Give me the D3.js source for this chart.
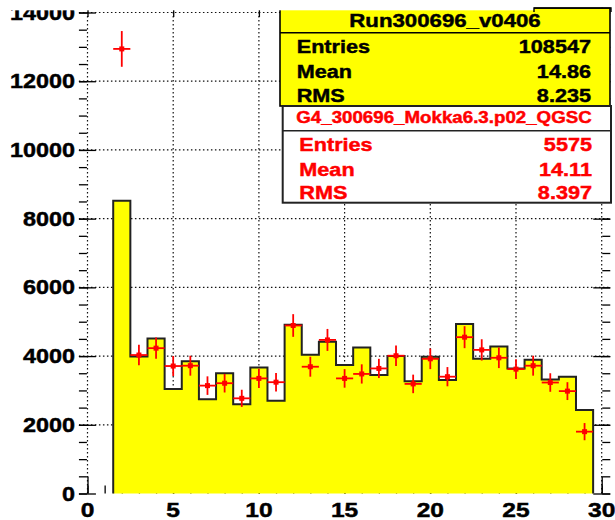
<!DOCTYPE html>
<html>
<head>
<meta charset="utf-8">
<script src="https://cdn.jsdelivr.net/npm/d3@7"></script>
<style>
  body { margin: 0; background: #fff; }
  svg { display: block; font-family: 'Liberation Sans', Arial, sans-serif; font-weight: bold; }
</style>
</head>
<body>
<svg id="chart" width="615" height="520"></svg>
<script>
// bin centres (bins are 1 wide, centred on integers)
const binCenters = [2, 3, 4, 5, 6, 7, 8, 9, 10, 11, 12, 13, 14, 15, 16, 17, 18, 19, 20, 21, 22, 23, 24, 25, 26, 27, 28, 29];
// data histogram (yellow)
const dataCounts = [8520, 3990, 4510, 3040, 3850, 2740, 3500, 2600, 3670, 2700, 4910, 4040, 4420, 3740, 4250, 3450, 4000, 3270, 3980, 3300, 4930, 3920, 4280, 3640, 3890, 3320, 3400, 2430];
// simulation points (red) and their errors
const mcCounts = [12940, 4030, 4230, 3710, 3720, 3140, 3210, 2770, 3350, 3240, 4890, 3690, 4470, 3350, 3480, 3640, 4010, 3190, 3920, 3400, 4550, 4180, 3950, 3620, 3720, 3230, 2980, 1800];
const mcErrors = [520, 300, 310, 290, 290, 270, 270, 250, 280, 270, 330, 290, 320, 270, 280, 280, 300, 270, 300, 280, 320, 310, 300, 290, 290, 270, 260, 250];

const xTickLabels = [0, 5, 10, 15, 20, 25, 30];
const yTickLabels = [0, 2000, 4000, 6000, 8000, 10000, 12000, 14000];

const dataTitle = 'Run300696_v0406';
const statNames = ['Entries', 'Mean', 'RMS'];
const dataStatValues = ['108547', '14.86', '8.235'];
const mcTitle = 'G4_300696_Mokka6.3.p02_QGSC';
const mcStatValues = ['5575', '14.11', '8.397'];

var svg = d3.select('#chart');
var stretch = 1.17;
var x = d3.scaleLinear().domain([-0.5, 30.5]).range([78.93, 610.27]);
var y = d3.scaleLinear().domain([0, 14000]).range([493.5, 12.5]);
var left = x(-0.5), right = x(30.5), top = y(14000), bottom = y(0);

function stretchedText(g, tx, ty, str, size, anchor, color) {
  return g.append('text')
          .attr('transform', `translate(${tx},${ty}) scale(${stretch},1)`)
          .attr('font-size', size)
          .attr('text-anchor', anchor)
          .attr('fill', color || '#000')
          .attr('stroke', color || '#000')
          .attr('stroke-width', 0.45)
          .text(str);
}

function drawTicks(axisFn, pos, values, size) {
  svg.append('g')
     .attr('transform', pos)
     .call(axisFn.tickValues(values).tickSize(size).tickSizeOuter(0).tickFormat(''))
     .call(g => g.select('.domain').remove())
     .selectAll('line').attr('stroke', '#000').attr('stroke-width', 1.3);
}

// grid
svg.append('g').selectAll('line').data(xTickLabels).enter().append('line')
   .attr('x1', d => x(d)).attr('x2', d => x(d))
   .attr('y1', top).attr('y2', bottom)
   .attr('stroke', '#111').attr('stroke-width', 1.2).attr('stroke-dasharray', '1.5,2.5');
svg.append('g').selectAll('line').data(yTickLabels.slice(1)).enter().append('line')
   .attr('x1', left).attr('x2', right)
   .attr('y1', d => y(d)).attr('y2', d => y(d))
   .attr('stroke', '#111').attr('stroke-width', 1.2).attr('stroke-dasharray', '1.5,2.5');

// ticks on all four sides
var xMinor = d3.range(0, 31, 1), yMinor = d3.range(0, 14001, 500);
drawTicks(d3.axisBottom(x), `translate(0,${bottom})`, xMinor, -8);
drawTicks(d3.axisBottom(x), `translate(0,${bottom})`, xTickLabels, -17);
drawTicks(d3.axisTop(x), `translate(0,${top})`, xMinor, -5);
drawTicks(d3.axisTop(x), `translate(0,${top})`, xTickLabels, -17);
drawTicks(d3.axisLeft(y), `translate(${left},0)`, yMinor, -8);
drawTicks(d3.axisLeft(y), `translate(${left},0)`, yTickLabels, -17);
drawTicks(d3.axisRight(y), `translate(${right},0)`, yMinor, -8);
drawTicks(d3.axisRight(y), `translate(${right},0)`, yTickLabels, -17);

// histogram
var steps = [[binCenters[0] - 0.5, 0]];
binCenters.forEach(function(c, i) {
  steps.push([c - 0.5, dataCounts[i]]);
  steps.push([c + 0.5, dataCounts[i]]);
});
steps.push([binCenters[binCenters.length - 1] + 0.5, 0]);
svg.append('path')
   .attr('d', d3.line().x(d => x(d[0])).y(d => y(d[1]))(steps))
   .attr('fill', '#ffff00')
   .attr('stroke', '#222')
   .attr('stroke-width', 2);

// red points with errors
var pts = svg.append('g').selectAll('g').data(binCenters).enter().append('g');
pts.append('line')
   .attr('x1', d => x(d)).attr('x2', d => x(d))
   .attr('y1', (d, i) => y(mcCounts[i] - mcErrors[i]))
   .attr('y2', (d, i) => y(mcCounts[i] + mcErrors[i]))
   .attr('stroke', '#ff0000').attr('stroke-width', 1.8);
pts.append('line')
   .attr('x1', d => x(d - 0.5)).attr('x2', d => x(d + 0.5))
   .attr('y1', (d, i) => y(mcCounts[i])).attr('y2', (d, i) => y(mcCounts[i]))
   .attr('stroke', '#ff0000').attr('stroke-width', 1.8);
pts.append('rect')
   .attr('x', d => x(d) - 2.5).attr('y', (d, i) => y(mcCounts[i]) - 2.5)
   .attr('width', 5).attr('height', 5)
   .attr('fill', '#ff0000');

// frame (left, bottom, right)
svg.append('path')
   .attr('d', `M${left},${top}V${bottom}H${right}V${top}`)
   .attr('fill', 'none').attr('stroke', '#000').attr('stroke-width', 1.6);

// tick labels
var labels = svg.append('g');
yTickLabels.forEach(function(v) {
  stretchedText(labels, 75, y(v) + 7, v, 20, 'end');
});
xTickLabels.forEach(function(v) {
  stretchedText(labels, x(v), 516.5, v, 21, 'middle');
});

// stats box for data
var box1 = svg.append('g');
box1.append('rect').attr('x', 280).attr('y', 8).attr('width', 330).attr('height', 98)
    .attr('fill', '#ffff00').attr('stroke', '#000').attr('stroke-width', 1.6);
box1.append('line').attr('x1', 280).attr('x2', 610).attr('y1', 32.7).attr('y2', 32.7)
    .attr('stroke', '#000').attr('stroke-width', 1.4);
stretchedText(box1, 445, 26.7, dataTitle, 19, 'middle');
[53.3, 78.3, 101.7].forEach(function(by, i) {
  stretchedText(box1, 296.7, by, statNames[i], 18.5, 'start');
  stretchedText(box1, 591, by, dataStatValues[i], 18.5, 'end');
});

// stats box for simulation
var box2 = svg.append('g');
box2.append('rect').attr('x', 282.7).attr('y', 106).attr('width', 328.3).attr('height', 96.7)
    .attr('fill', '#fff').attr('stroke', '#222').attr('stroke-width', 2);
box2.append('line').attr('x1', 282.7).attr('x2', 611).attr('y1', 130.7).attr('y2', 130.7)
    .attr('stroke', '#222').attr('stroke-width', 1.4);
stretchedText(box2, 444, 122.7, mcTitle, 16, 'middle', '#ff0000');
[150.7, 175.7, 199].forEach(function(by, i) {
  stretchedText(box2, 299.3, by, statNames[i], 18.5, 'start', '#ff0000');
  stretchedText(box2, 592, by, mcStatValues[i], 18.5, 'end', '#ff0000');
});

// the picture is cut off at the top
svg.append('rect').attr('x', 0).attr('y', 0).attr('width', 534).attr('height', 10.3).attr('fill', '#fff');
svg.append('rect').attr('x', 534).attr('y', 0).attr('width', 81).attr('height', 7.3).attr('fill', '#fff');
svg.append('path').attr('d', 'M534,12V8H611V12').attr('fill', 'none').attr('stroke', '#000').attr('stroke-width', 1.4);
</script>
</body>
</html>
